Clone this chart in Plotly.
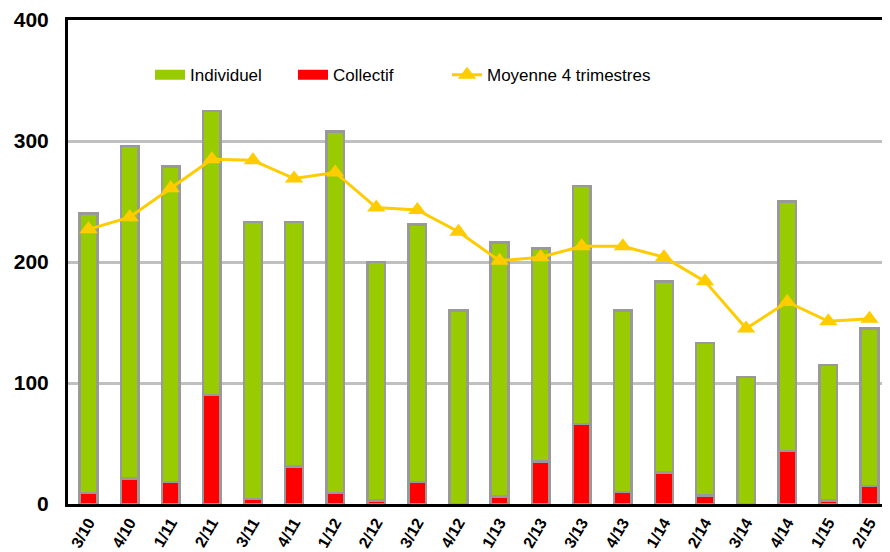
import plotly.graph_objects as go

categories = ["3/10", "4/10", "1/11", "2/11", "3/11", "4/11", "1/12", "2/12", "3/12", "4/12",
              "1/13", "2/13", "3/13", "4/13", "1/14", "2/14", "3/14", "4/14", "1/15", "2/15"]
totals = [240, 296, 279, 325, 233, 233, 308, 200, 231, 160,
          216, 211, 263, 160, 184, 133, 105, 250, 115, 145]
collectif = [9, 21, 18, 90, 4, 31, 9, 3, 18, 0,
             6, 35, 66, 10, 26, 7, 0, 44, 3, 15]
individuel = [t - c for t, c in zip(totals, collectif)]
moyenne = [227, 237, 261, 285, 284, 269, 274, 245, 243, 225,
           201, 204, 213, 213, 204, 184, 145, 167, 151, 153]

FONT = "Liberation Sans, Arial, sans-serif"
GREEN = "#99CC00"
RED = "#FF0000"
YELLOW = "#FFCC00"
border = dict(color="#999999", width=2.5)

fig = go.Figure()
fig.add_trace(go.Bar(x=categories, y=collectif, name="Collectif", showlegend=False,
                     marker=dict(color=RED, line=border)))
fig.add_trace(go.Bar(x=categories, y=individuel, name="Individuel", showlegend=False,
                     marker=dict(color=GREEN, line=border)))
fig.add_trace(go.Scatter(x=categories, y=moyenne, name="Moyenne 4 trimestres", legend="legend3",
                         mode="lines+markers",
                         line=dict(color=YELLOW, width=3),
                         marker=dict(symbol="triangle-up", size=16, color=YELLOW)))
# legend-only entries for the bar series (wide rectangle symbols)
fig.add_trace(go.Scatter(x=[categories[0]], y=[None], name="Individuel", legend="legend",
                         mode="lines", line=dict(color=GREEN, width=10), hoverinfo="skip"))
fig.add_trace(go.Scatter(x=[categories[0]], y=[None], name="Collectif", legend="legend2",
                         mode="lines", line=dict(color=RED, width=10), hoverinfo="skip"))

PL, PW = 60, 822  # plot left margin and width inside the figure

def leg(xpx):
    # xpx: desired page x of the legend box (page has 8px body margin)
    return dict(x=(xpx - 8 - PL) / PW, y=0.886, xanchor="left", yanchor="middle",
                orientation="h", font=dict(size=17, family=FONT, color="black"),
                bgcolor="rgba(0,0,0,0)")

fig.update_layout(
    width=882, height=544,
    margin=dict(l=PL, r=0, t=12, b=48),
    paper_bgcolor="white", plot_bgcolor="white",
    barmode="stack", bargap=0.57,
    font=dict(family=FONT, color="black"),
    showlegend=True,
    legend=leg(150), legend2=leg(293), legend3=leg(447),
    xaxis=dict(type="category", range=[-0.5, 19.5], tickangle=-60, showgrid=False,
               showline=True, linecolor="black", linewidth=3, mirror=True, automargin=False,
               tickfont=dict(size=16, family=FONT, weight="bold"), ticks=""),
    yaxis=dict(range=[0, 400], tickvals=[0, 100, 200, 300, 400],
               showgrid=True, gridcolor="#C0C0C0", gridwidth=3, automargin=False,
               showline=True, linecolor="black", linewidth=3, zeroline=False,
               tickfont=dict(size=21, family=FONT, weight="bold"),
               ticks="", ticklabelstandoff=12),
)

fig.write_html("out.html")
